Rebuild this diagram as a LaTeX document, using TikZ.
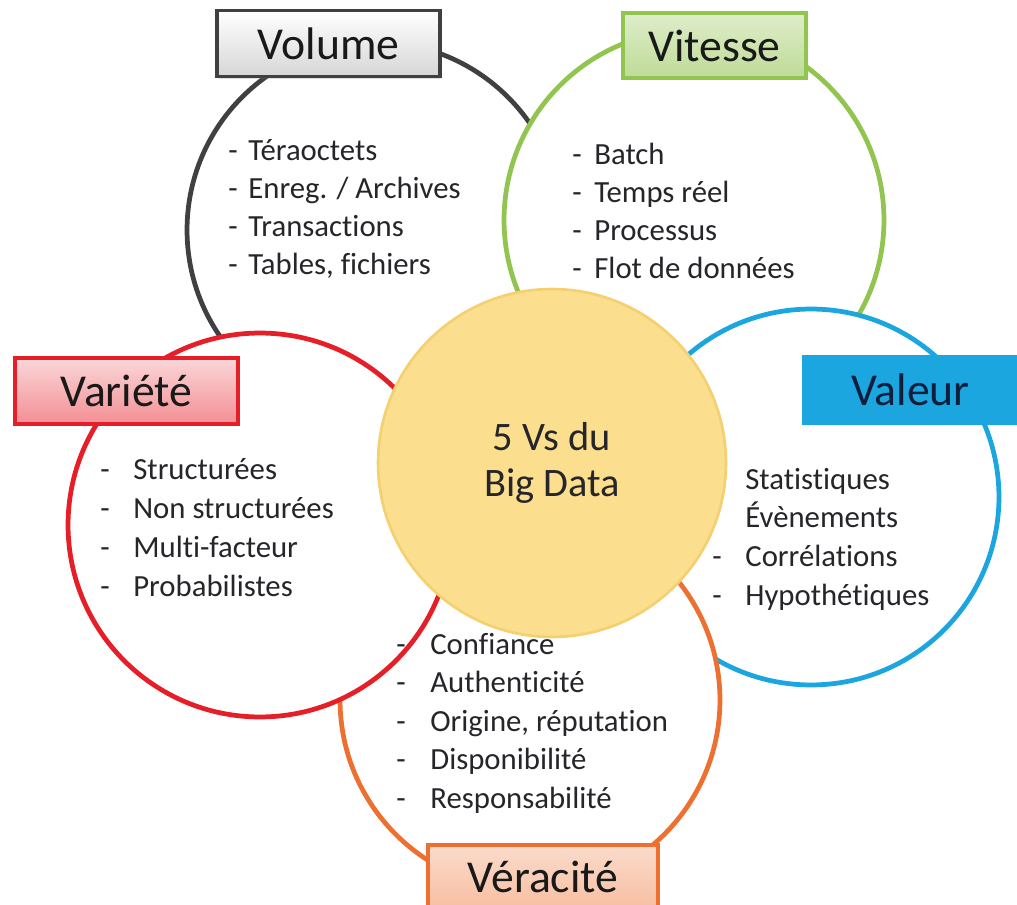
\documentclass[tikz,border=0pt]{standalone}
\usepackage{fontspec}
\setmainfont{Carlito}[Ligatures={NoCommon,NoContextual}]
\usetikzlibrary{shadows}

\definecolor{volgray}{RGB}{64,64,66}
\definecolor{vitgreen}{RGB}{146,196,80}
\definecolor{valblue}{RGB}{27,166,224}
\definecolor{verorange}{RGB}{237,112,48}
\definecolor{varred}{RGB}{230,30,40}
\definecolor{coreyel}{RGB}{251,222,142}
\definecolor{coreedge}{RGB}{244,208,112}
\definecolor{txtgray}{RGB}{38,38,42}

\tikzset{
  ring/.style={circle,draw=#1,line width=2.7pt,fill=white,inner sep=0pt},
  title/.style={line width=2.2pt,minimum height=1.32cm,inner sep=0pt,text=black!90,
    font=\fontsize{26}{30}\selectfont,
    drop shadow={opacity=0.25,shadow xshift=0.8pt,shadow yshift=-1.2pt}},
  item/.style={anchor=base west,inner sep=0pt,text=txtgray,font=\fontsize{17.5}{21}\selectfont},
}

\begin{document}
\begin{tikzpicture}[x=0.02cm,y=-0.02cm]
\useasboundingbox (0,0) rectangle (1017,905);

% rings, back to front
\node[ring=volgray,minimum size=7.52cm] (volC) at (375,230) {};
\node[ring=vitgreen,minimum size=7.6cm] (vitC) at (694,220) {};
\node[ring=valblue,minimum size=7.52cm] (valC) at (811,497) {};
\node[ring=verorange,minimum size=7.6cm] (verC) at (530,700) {};
\node[ring=varred,minimum size=7.68cm] (varC) at (260,525) {};
\node[circle,draw=coreedge,line width=1.5pt,fill=coreyel,minimum size=6.96cm,inner sep=0pt,
  align=center,text=txtgray,font=\fontsize{23}{26.6}\selectfont] (core) at (552,463) {5 Vs du\\Big Data};

% lists
\foreach \t [count=\n] in {Téraoctets,Enreg. / Archives,Transactions,{Tables, fichiers}}{
  \node[item] (volD\n) at (228,{161+38*(\n-1)}) {-};
  \node[item] (vol\n) at (248,{161+38*(\n-1)}) {\t};
}
\foreach \t [count=\n] in {Batch,Temps réel,Processus,Flot de données}{
  \node[item] (vitD\n) at (572,{165+38*(\n-1)}) {-};
  \node[item] (vit\n) at (594,{165+38*(\n-1)}) {\t};
}
\foreach \t [count=\n] in {Structurées,Non structurées,Multi-facteur,Probabilistes}{
  \node[item] (varD\n) at (100,{479+39*(\n-1)}) {-};
  \node[item] (var\n) at (133,{479+39*(\n-1)}) {\t};
}
\foreach \t/\d [count=\n] in {Statistiques/,Évènements/,Corrélations/-,Hypothétiques/-}{
  \node[item] (valD\n) at (712,{489+38.7*(\n-1)}) {\d};
  \node[item] (val\n) at (745,{489+38.7*(\n-1)}) {\t};
}
\foreach \t [count=\n] in {Confiance,Authenticité,{Origine, réputation},Disponibilité,Responsabilité}{
  \node[item] (verD\n) at (396,{654+38.5*(\n-1)}) {-};
  \node[item] (ver\n) at (430,{654+38.5*(\n-1)}) {\t};
}

% titles
\node[title,draw=volgray,top color=white,bottom color=black!16,minimum width=4.46cm] (vol) at (328.5,43.5) {Volume};
\node[title,draw=vitgreen,top color=vitgreen!30,bottom color=vitgreen!60,minimum width=3.66cm,minimum height=1.3cm] (vit) at (714.5,45.5) {Vitesse};
\node[title,draw=varred,top color=varred!18,bottom color=varred!50,minimum width=4.46cm] (var) at (126.5,391) {Variété};
\node[title,draw=valblue,fill=valblue,text={rgb,255:red,15;green,30;blue,60},minimum width=4.26cm] (val) at (910.5,390) {Valeur};
\node[title,draw=verorange,top color=verorange!25,bottom color=verorange!45,minimum width=4.6cm,minimum height=1.28cm] (ver) at (543,877) {Véracité};
\end{tikzpicture}
\end{document}
